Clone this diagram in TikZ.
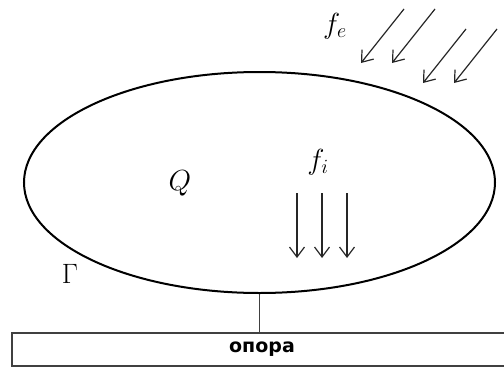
\documentclass[tikz,border=0pt]{standalone}
\usepackage{amsmath,amssymb}
\usepackage{graphicx}
\usepackage{fontspec}
\usepackage{tikz}
\usetikzlibrary{shapes.geometric,arrows.meta}
\newfontfamily\supportfont{DejaVu Sans}
\newcommand\bigsym[1]{\scalebox{1.4}{$#1$}}

\begin{document}
\begin{tikzpicture}[x=1pt,y=-1pt,
  load/.style={draw=black!85,line width=1.2pt,-{Straight Barb[length=10pt,width=15pt]}},
  lbl/.style={font=\huge,inner sep=0pt}]
\useasboundingbox (0,0) rectangle (504,367);
\clip (0,0) rectangle (504,367);
\node[draw,line width=2pt,ellipse,minimum width=471pt,minimum height=221pt,inner sep=0pt] (body) at (259.5,182.5) {};
\node[draw=black!75,line width=1.2pt,minimum width=500pt,minimum height=33pt,inner sep=0pt,
  font=\supportfont\bfseries\fontsize{19}{22}\selectfont] (support) at (262,349.5) {опора};
\draw[black!75,line width=1.2pt] (body.south) -- (body.south |- support.north);
% external load
\foreach \x/\y in {404/9,435/9,466/29,497/29}
  \draw[load] (\x,\y) -- ++(-43,54);
% internal load
\foreach \x in {297,322,347}
  \draw[load] (\x,193) -- (\x,258);
\node[lbl] (fe) at (335,26) {\bigsym{f_e}};
\node[lbl] (fi) at (318,162) {\bigsym{f_i}};
\node[lbl] (Q) at (180,183) {\bigsym{Q}};
\node[lbl] (gamma) at (70,274) {\scalebox{1.35}{$\Gamma$}};
\end{tikzpicture}
\end{document}
